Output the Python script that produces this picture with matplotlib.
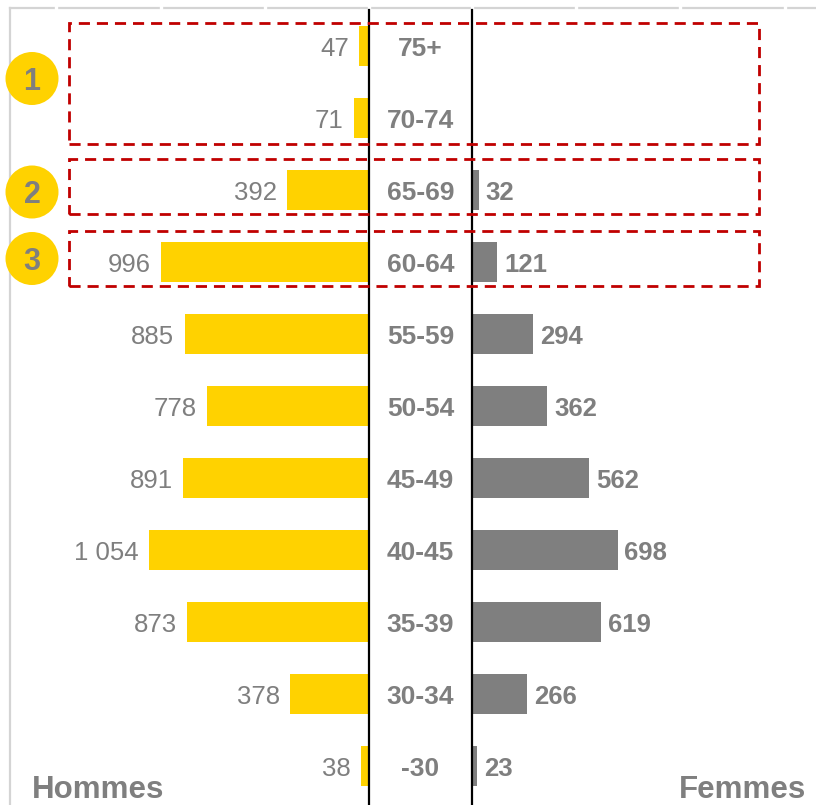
import matplotlib
matplotlib.use('Agg')
import matplotlib.pyplot as plt
from matplotlib.patches import Rectangle, Ellipse
from matplotlib.transforms import blended_transform_factory

plt.rcParams['font.family'] = ['Liberation Sans', 'DejaVu Sans']

# ---- data ----
age_groups = ['-30', '30-34', '35-39', '40-45', '45-49', '50-54',
              '55-59', '60-64', '65-69', '70-74', '75+']
hommes = [38, 378, 873, 1054, 891, 778, 885, 996, 392, 71, 47]
femmes = [23, 266, 619, 698, 562, 362, 294, 121, 32, 0, 0]
highlight_groups = [['70-74', '75+'], ['65-69'], ['60-64']]
highlight_numbers = ['1', '2', '3']
tick_values = [0, 500, 1000, 1500]

YELLOW = '#FFD200'
GRAY = '#7F7F7F'
RED = '#C00000'
LIGHT = '#D4D4D4'

OFF = 247  # half-width of center column in data units

fig = plt.figure(figsize=(8.16, 8.05), dpi=100)
ax = fig.add_axes([10 / 816, 0.0, 806 / 816, 797 / 805])

y = list(range(len(age_groups)))
bh = 0.555
ax.barh(y, [-v for v in hommes], left=-OFF, height=bh, color=YELLOW, zorder=3)
ax.barh(y, femmes, left=OFF, height=bh, color=GRAY, zorder=3)

def fmt(v):
    return f"{v:,}".replace(',', ' ')

DY = -2.2
for yi, v in zip(y, hommes):
    ax.annotate(fmt(v), xy=(-OFF - v, yi), xytext=(-7.5, DY), textcoords='offset points',
                ha='right', va='center', fontsize=18.5, color=GRAY, zorder=5)
for yi, v in zip(y, femmes):
    if v > 0:
        ax.annotate(fmt(v), xy=(OFF + v, yi), xytext=(5, DY), textcoords='offset points',
                    ha='left', va='center', fontsize=18.5, fontweight='bold', color=GRAY, zorder=5)
for yi, lab in zip(y, age_groups):
    ax.annotate(lab, xy=(0, yi), xytext=(0, DY), textcoords='offset points',
                ha='center', va='center', fontsize=19, fontweight='bold',
                color=GRAY, zorder=5)

ax.set_xlim(-OFF - 1722, OFF + 1650)
ax.set_ylim(-0.54, 10.53)

# center lines
ax.axvline(-OFF, color='black', lw=1.6, ymax=0.997, zorder=4)
ax.axvline(OFF, color='black', lw=1.6, ymax=0.997, zorder=4)

# spines & top "grid" line with tick gaps
for s in ['right', 'bottom']:
    ax.spines[s].set_visible(False)
ax.spines['top'].set_color(LIGHT)
ax.spines['top'].set_linewidth(1.6)
ax.spines['top'].set_zorder(0.4)
ax.spines['left'].set_color(LIGHT)
ax.spines['left'].set_linewidth(1.6)
ax.xaxis.tick_top()
ticks = [-OFF - t for t in tick_values] + [OFF + t for t in tick_values]
ax.set_xticks(ticks)
ax.tick_params(axis='x', direction='inout', length=8, width=2.4, color='white',
               labeltop=False, labelbottom=False)
ax.set_yticks([])

# highlight boxes
trans = blended_transform_factory(ax.transAxes, ax.transData)
x0 = (69 - 10) / 806
x1 = (759 - 10) / 806
for grp in highlight_groups:
    idx = [age_groups.index(g) for g in grp]
    lo = min(idx) - 0.36 if len(idx) > 1 else min(idx) - 0.333
    hi = max(idx) + 0.32 if len(idx) > 1 else max(idx) + 0.43
    ax.add_patch(Rectangle((x0, lo), x1 - x0, hi - lo, transform=trans, fill=False,
                           edgecolor=RED, lw=2, linestyle=(0, (4, 2.5)), zorder=6,
                           clip_on=False))

# numbered circles
circle_y = [78.5, 192, 258.5]
for cy, num in zip(circle_y, highlight_numbers):
    fy = 1 - cy / 805
    fig.patches.append(Ellipse((32 / 816, fy), 53 / 816, 53 / 805, transform=fig.transFigure,
                               facecolor=YELLOW, edgecolor='none', zorder=7))
    fig.text(32 / 816, fy - 3 / 805, num, ha='center', va='center', fontsize=22,
             fontweight='bold', color=GRAY, zorder=8)

fig.text(32 / 816, 1 - 798 / 805, 'Hommes', ha='left', va='baseline', fontsize=22.5,
         fontweight='bold', color=GRAY)
fig.text(806 / 816, 1 - 798 / 805, 'Femmes', ha='right', va='baseline', fontsize=22.5,
         fontweight='bold', color=GRAY)

fig.savefig('out.png', dpi=100, facecolor='white')
